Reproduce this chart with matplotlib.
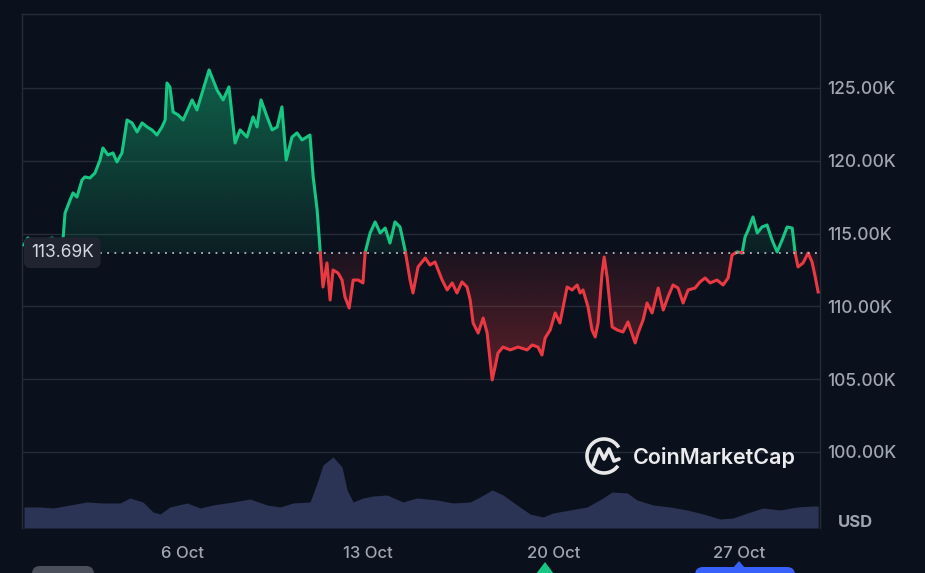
import numpy as np
import matplotlib
matplotlib.use("Agg")
import matplotlib.pyplot as plt
import matplotlib.colors as mcolors
from matplotlib.path import Path
from matplotlib.patches import Arc, FancyBboxPatch, Polygon

plt.rcParams['font.family'] = ['Inter', 'DejaVu Sans']

# --- data ----------------------------------------------------------------
# time in days since 30 Sep, price in thousands of USD
price_t = [0.00, 0.15, 0.42, 0.79, 1.06, 1.28, 1.47, 1.55, 1.74, 1.85,
           2.00, 2.19, 2.30, 2.49, 2.68, 2.87, 2.98, 3.17, 3.36, 3.51,
           3.70, 3.89, 4.08, 4.27, 4.46, 4.65, 4.83, 5.02, 5.21, 5.33,
           5.40, 5.51, 5.63, 5.82, 6.01, 6.35, 6.53, 6.76, 6.99, 7.14,
           7.29, 7.52, 7.74, 7.97, 8.16, 8.42, 8.65, 8.80, 8.95, 9.18,
           9.37, 9.56, 9.74, 9.90, 10.12, 10.31, 10.50, 10.80, 10.92, 11.07,
           11.18, 11.29, 11.44, 11.56, 11.67, 11.86, 12.01, 12.12, 12.28, 12.43,
           12.62, 12.80, 12.88, 13.07, 13.26, 13.45, 13.64, 13.82, 14.01, 14.20,
           14.39, 14.58, 14.69, 14.88, 15.15, 15.33, 15.52, 15.79, 15.98, 16.17,
           16.35, 16.54, 16.73, 16.85, 16.96, 17.15, 17.34, 17.49, 17.68, 17.79,
           17.90, 18.09, 18.36, 18.66, 19.00, 19.19, 19.41, 19.56, 19.68, 19.87,
           20.06, 20.24, 20.36, 20.51, 20.70, 20.89, 21.00, 21.11, 21.30, 21.45,
           21.57, 21.68, 21.83, 21.91, 22.02, 22.21, 22.40, 22.62, 22.81, 23.08,
           23.19, 23.38, 23.53, 23.72, 23.95, 24.14, 24.32, 24.51, 24.70, 24.89,
           25.08, 25.34, 25.53, 25.72, 25.91, 26.17, 26.40, 26.59, 26.74, 26.93,
           27.12, 27.23, 27.35, 27.53, 27.69, 27.87, 28.06, 28.25, 28.44, 28.63,
           28.82, 29.01, 29.12, 29.23, 29.42, 29.61, 29.76, 29.88, 29.99]
price_k = [114.22, 114.70, 114.29, 114.49, 114.70, 114.42, 114.56, 116.41, 117.31, 117.79,
           117.51, 118.68, 118.89, 118.82, 119.16, 120.05, 120.88, 120.40, 120.54, 119.92,
           120.54, 122.80, 122.60, 121.98, 122.60, 122.32, 122.12, 121.77, 122.32, 122.80,
           125.34, 125.07, 123.35, 123.15, 122.80, 124.18, 123.49, 124.86, 126.24, 125.55,
           124.86, 124.18, 125.07, 121.22, 122.12, 121.63, 123.01, 122.32, 124.18, 123.01,
           122.12, 122.32, 123.70, 120.05, 121.63, 121.91, 121.43, 121.77, 118.89, 116.62,
           113.87, 111.33, 112.98, 110.44, 112.50, 112.29, 111.81, 110.65, 109.89, 111.81,
           111.81, 111.61, 113.67, 115.04, 115.80, 115.04, 115.38, 114.35, 115.80, 115.45,
           113.87, 111.81, 110.92, 112.71, 113.32, 112.84, 113.05, 111.81, 111.13, 111.61,
           110.92, 111.68, 111.33, 110.44, 108.86, 108.17, 109.20, 108.17, 104.95, 105.84,
           106.80, 107.21, 107.01, 107.21, 107.01, 107.35, 107.21, 106.66, 107.83, 108.38,
           109.55, 108.86, 109.96, 111.33, 111.13, 111.47, 110.92, 111.13, 109.96, 108.38,
           107.90, 108.86, 112.29, 113.39, 112.02, 108.59, 108.38, 108.24, 108.93, 107.49,
           108.17, 109.07, 110.23, 109.55, 111.26, 109.75, 110.65, 111.47, 111.26, 110.23,
           111.13, 111.26, 111.68, 111.95, 111.61, 111.81, 111.47, 111.95, 113.53, 113.74,
           113.67, 114.77, 115.25, 116.14, 115.04, 115.45, 115.59, 114.56, 113.74, 114.56,
           115.45, 115.38, 113.67, 112.71, 112.98, 113.67, 113.05, 112.02, 110.99]

vol_t = [0.00, 0.60, 1.10, 1.74, 2.38, 2.98, 3.63, 4.00, 4.49, 4.87,
         5.14, 5.51, 6.16, 6.65, 7.14, 7.89, 8.54, 9.18, 9.67, 10.16,
         10.80, 11.07, 11.29, 11.67, 12.01, 12.20, 12.43, 12.80, 13.18, 13.71,
         14.31, 14.84, 15.60, 16.20, 16.85, 17.22, 17.68, 18.09, 18.62, 19.11,
         19.60, 19.98, 20.62, 21.26, 21.87, 22.21, 22.78, 23.15, 23.76, 24.40,
         25.04, 25.65, 26.29, 26.78, 27.31, 27.91, 28.55, 29.20, 29.80, 29.99]
vol_b = [21, 21, 20, 23, 26, 25, 25, 30, 26, 16,
         14, 21, 25, 20, 23, 26, 29, 23, 21, 25,
         26, 45, 63, 71, 61, 38, 26, 30, 32, 33,
         26, 30, 28, 25, 26, 31, 38, 33, 23, 14,
         11, 15, 18, 21, 30, 36, 35, 28, 23, 21,
         18, 14, 9, 10, 15, 20, 18, 21, 22, 22]

base_k = 113.69
yticks_k = [100, 105, 110, 115, 120, 125]
xtick_t = [6, 13, 20, 27]
xtick_labels = ["6 Oct", "13 Oct", "20 Oct", "27 Oct"]

# --- style ----------------------------------------------------------------
BG = "#0b111c"
GRID = "#262b38"
TXT = "#a0a5b2"
GREEN = "#16c784"
RED = "#ea3943"
VOL = "#2c3456"


def with_crossings(t, p, base):
    """insert points exactly on the baseline where the series crosses it"""
    ts, ps = [t[0]], [p[0]]
    for i in range(1, len(t)):
        p0, p1 = p[i - 1], p[i]
        if (p0 - base) * (p1 - base) < 0:
            f = (base - p0) / (p1 - p0)
            ts.append(t[i - 1] + f * (t[i] - t[i - 1]))
            ps.append(base)
        ts.append(t[i]); ps.append(p[i])
    return np.array(ts), np.array(ps)


def gradient_fill(ax, t, p, base, where, color, far, a_near, a_far):
    coll = ax.fill_between(t, p, base, where=where, interpolate=True,
                           facecolor="none", edgecolor="none")
    clip = Path.make_compound_path(*coll.get_paths())
    rgba = np.zeros((256, 1, 4))
    rgba[..., :3] = mcolors.to_rgb(color)
    rgba[:, 0, 3] = np.linspace(a_near, a_far, 256)
    lo, hi = min(base, far), max(base, far)
    im = ax.imshow(rgba, extent=[t[0], t[-1], lo, hi], aspect="auto",
                   origin="lower" if far > base else "upper", zorder=2,
                   interpolation="bilinear")
    im.set_clip_path(clip, ax.transData)


W, H = 925, 573
fig = plt.figure(figsize=(W / 100, H / 100), dpi=100, facecolor=BG)
rect = [22 / W, 1 - 528 / H, (820 - 22) / W, (528 - 14) / H]

# volume underneath
axv = fig.add_axes(rect, facecolor=BG)
axv.fill_between(vol_t, vol_b, 0, color=VOL, lw=0)
axv.set_xlim(-0.076, 30.06)
axv.set_ylim(0, max(vol_b) * 514 / 71)
axv.axis("off")

ax = fig.add_axes(rect)
ax.patch.set_visible(False)

t, p = with_crossings(np.array(price_t), np.array(price_k), base_k)
gradient_fill(ax, t, p, base_k, p >= base_k, GREEN, 130.0, 0.08, 0.55)
gradient_fill(ax, t, p, base_k, p <= base_k, RED, 104.0, 0.07, 0.40)

eps = 1e-9
ax.plot(t, np.ma.masked_where(p < base_k - eps, p), color=GREEN, lw=2.2,
        solid_joinstyle="round", zorder=4)
ax.plot(t, np.ma.masked_where(p > base_k + eps, p), color=RED, lw=2.2,
        solid_joinstyle="round", zorder=4)

ax.set_xlim(-0.076, 30.06)
ax.set_ylim(94.78, 130.08)

for y in yticks_k:
    ax.axhline(y, color=GRID, lw=1.0, zorder=1)
ax.axhline(base_k, xmin=(100 - 22) / 798, xmax=(818 - 22) / 798,
           color="#b4b9c4", lw=1.3, ls=(0, (1, 3)), zorder=5)

ax.yaxis.tick_right()
ax.set_yticks(yticks_k)
ax.set_yticklabels([f"{v:.2f}K" for v in yticks_k], fontweight="medium")
ax.set_xticks(xtick_t)
ax.set_xticklabels(xtick_labels, fontweight="medium")
ax.tick_params(axis="y", length=0, pad=5, labelsize=12.5, labelcolor=TXT)
ax.tick_params(axis="x", length=0, pad=13, labelsize=12, labelcolor=TXT)
for side in ["top", "left", "right"]:
    ax.spines[side].set_color(GRID)
    ax.spines[side].set_linewidth(1.0)
ax.spines["bottom"].set_visible(False)

ax.annotate("USD", xy=(1, 0), xycoords="axes fraction", xytext=(13, 4),
            textcoords="offset points", ha="left", va="center",
            fontsize=12, color=TXT, fontweight="bold")
ax.annotate(f"{base_k:.2f}K", xy=(0, base_k), xycoords=("axes fraction", "data"),
            xytext=(29, 0), textcoords="offset points", ha="center", va="center",
            fontsize=12.5, color="#d3d7df", zorder=6,
            bbox=dict(boxstyle="round,pad=0.4,rounding_size=0.4",
                      fc="#1f2430", ec="none"))

# overlay in pixel coordinates for watermark / ui bits
ov = fig.add_axes([0, 0, 1, 1])
ov.set_xlim(0, W); ov.set_ylim(H, 0)
ov.axis("off"); ov.patch.set_visible(False)

ov.add_patch(Arc((604, 456), 34, 34, theta1=35, theta2=330, color="#e8e8ea", lw=2.6))
ov.plot([593, 599, 604, 609, 614, 619],
        [465, 449, 459, 449, 461, 459], color="#e8e8ea", lw=2.6,
        solid_joinstyle="round", solid_capstyle="round")
ov.text(633, 457, "CoinMarketCap", fontsize=15.5, color="#ececee",
        fontweight="semibold", va="center", ha="left")

ov.add_patch(FancyBboxPatch((32, 566), 62, 20, boxstyle="round,pad=0,rounding_size=8",
                            fc="#4a4f5b", ec="none"))
ov.add_patch(Polygon([[536, 574], [545, 562], [554, 574]], closed=True,
                     fc=GREEN, ec="none"))
ov.add_patch(FancyBboxPatch((695, 567), 100, 20, boxstyle="round,pad=0,rounding_size=8",
                            fc="#3861fb", ec="none"))
ov.add_patch(Polygon([[733, 568], [739, 561], [745, 568]], closed=True,
                     fc="#3861fb", ec="none"))

fig.savefig("out.png", dpi=100, facecolor=BG)
